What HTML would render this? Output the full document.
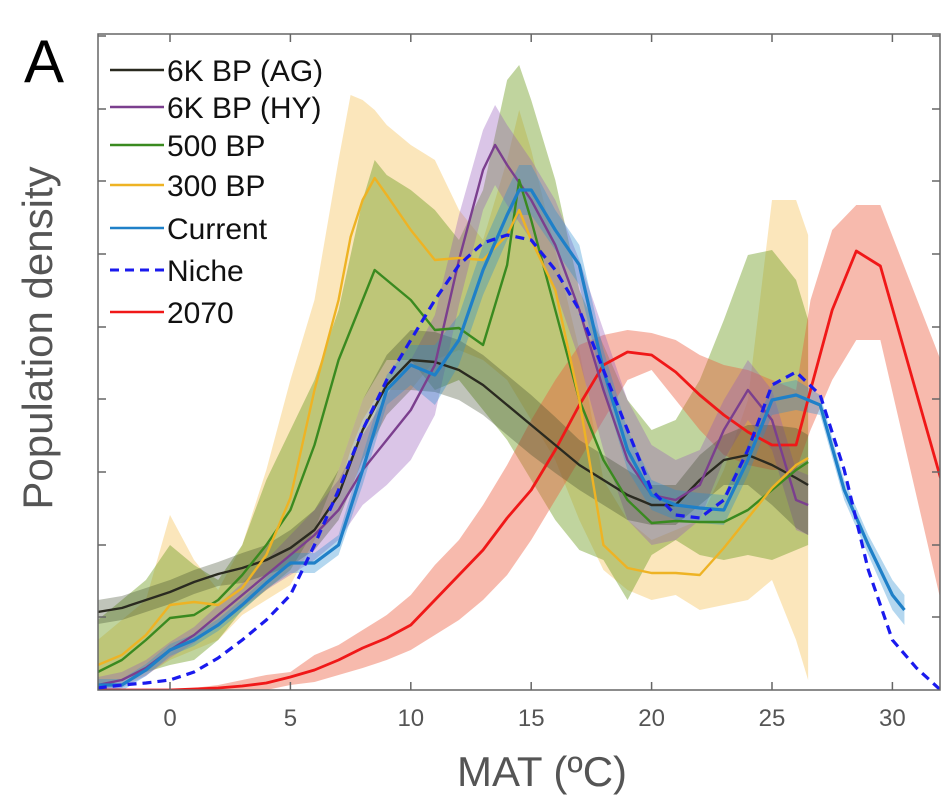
<!DOCTYPE html>
<html><head><meta charset="utf-8"><style>
body{margin:0;background:#fff;}
svg{display:block;font-family:"Liberation Sans",sans-serif;}
</style></head><body>
<svg id="chart" width="952" height="807">
<text x="24" y="82" font-size="60" fill="#000">A</text>
<text transform="translate(52,338) rotate(-90)" text-anchor="middle" font-size="42" fill="#555">Population density</text>
<text x="542" y="786" text-anchor="middle" font-size="42" fill="#555">MAT (ºC)</text>
<g id="plot"></g>
</svg>
<script>
const xsBlack=[-3,-2,-1,0,1,2,3,4,5,6,7,8,9,10,11,12,13,14,15,16,17,18,19,20,21,22,23,24,25,26,26.5];
const vBlack=[7.8,8.2,9,9.8,10.8,11.6,12.2,13,14.2,16,19.5,26,30.5,33,32.8,32,30.5,28.5,26.5,24.5,22.5,21,19.5,18.5,18.5,21,23,23.5,22.5,21.2,20.5];
const hwBlack=[1.2,1.2,1.2,1.2,1.2,1.2,1.5,1.5,1.8,2,2.5,3,3,3,3,3,3,3,3,2.8,2.5,2.5,2.5,2,2,2.5,2.5,3,4,5,5];
const xsPurple=[-3,-2,-1,0,1,2,3,4,5,6,7,8,9,10,11,12,13,13.5,14,15,16,17,18,19,20,21,22,23,24,25,26,26.5];
const vPurple=[0.5,1,2.2,4,5.5,7.5,9.5,11.5,13.5,15.5,18,22,25,28,32.5,43,52,54.5,52.5,49,44.5,38,30,23,19.5,19,20.5,26,30,27,19,18.5];
const hwPurple=[0.8,0.8,0.8,0.8,0.8,1,1.2,1.5,2,2.5,3,3.5,4.5,5,5,4.5,4,4,4,4,4.5,5,6,6,5,4,3.5,3,3,3,3,3];
const xsGreen=[-3,-2,-1,0,1,2,3,4,5,6,7,8,8.5,9,10,11,12,13,14,14.5,15,16,17,18,19,20,21,22,23,24,25,26,26.5];
const vGreen=[1.8,3,5,7.2,7.5,9,11.5,14.5,18,24.5,33,39,42,41,39,36,36.2,34.5,42.5,51,47,38,29,23,19,16.7,16.9,16.8,16.8,18,20,22,22.8];
const hiGreen=[7,9,11,14.5,12.5,11,14.5,21,26,31,38,49,53,51.5,50,48,45,50,61,62.5,59,51,40,34.5,29,26,27,31,37,43.5,44,41,37];
const loGreen=[0,1,1.8,2.5,3,5,8,10,12,16,22,29,31,33,33,30,31,28,25,23,21,17,14,13,9,13.5,15,13.5,13,13.5,13,14,14.5];
const xsYellow=[-3,-2,-1,0,1,2,3,4,5,6,7,7.5,8,8.5,9,10,11,12,13,14,14.5,15,16,17,18,19,20,21,22,23,24,25,26,26.5];
const vYellow=[2.5,3.5,5.5,8.5,8.8,8.5,10.2,13.5,19.2,30,39,45.3,49,51.2,49.5,46,43,43.2,43,45.5,48,45,40,29,14.5,12.2,11.7,11.7,11.5,14.2,17.2,20.2,22.5,23.2];
const hiYellow=[5,7,9,17.5,13,10,14.5,22,31,39,53,59.5,59,58,56.5,54.5,53,48,45,53,58,54,44,34,21,17,15,16,17,22,29,49,49,45.5];
const loYellow=[0,0.5,1.5,3,4,5,7.5,9,10.5,15,20,24,27,29,30,30,33,34,33,31,29,27,23,17,12,10,9,9.5,8,8.5,9,11,5,1];
const xsBlue=[-3,-2,-1,0,1,2,3,4,5,6,7,8,9,10,11,12,13,14,14.5,15,16,17,18,19,20,21,22,23,24,25,26,27,28,29,30,30.5];
const vBlue=[0.5,0.5,2,4,5,6.5,8.5,10.7,12.7,12.7,14.5,22,30,32.5,31.5,35,42,47.5,50,50,46,42.5,32,24,19.5,18.5,18.2,18,23,29,29.5,28.5,20,14.5,9.5,8];
const hwBlue=[0.6,0.6,0.6,0.6,0.6,0.6,0.6,0.6,1,1,1,1.5,1.5,2,3,2.5,2.5,2.5,2.5,2.5,2,2,2,2,1.5,1.5,1.5,1.5,1.5,1.5,1.5,1,1,1,1.5,1.5];
const xsNiche=[-3,-2,-1,0,1,2,3,4,5,6,7,8,9,10,11,12,13,14,15,16,17,18,19,20,21,22,23,24,25,26,27,28,29,30,31,32];
const vNiche=[0.2,0.5,0.7,1,1.8,3.2,5,7,9.5,14.5,20,26,31,35,39,42.5,44.7,45.5,45,42,38,32,26,20,17.5,17.2,19,24,30.5,31.8,29.5,22,12,5,2.2,0];
const xsRed=[-3,-2,-1,0,1,2,3,4,5,6,7,8,9,10,11,12,13,14,15,16,17,18,19,20,21,22,23,24,25,26,26.6,27.5,28.5,29.5,32];
const vRed=[0,0,0,0,0.1,0.2,0.4,0.7,1.3,2,3,4.2,5.2,6.5,9,11.5,14,17.2,20,24,28.5,32.5,33.8,33.5,31.8,29.5,27.5,25.8,24.5,24.5,30,38,43.9,42.4,21.2];
const hiRed=[0,0,0,0,0.2,0.5,1,1.5,1.8,3.5,4.5,6,7.5,9.5,12.5,15,18.5,22.5,27,31,34.5,35.5,36,35.7,35,33.5,32.5,32,31,30,39,46,48.5,48.5,33];
const loRed=[0,0,0,0,0,0,0,0,0.5,0.8,1.5,2.2,3,4,5.5,7,9,11.5,15,19,23,27,31,32,29,26,23.5,22.5,22,22,26,31,35,35,9];
const xTicks=[0,5,10,15,20,25,30];
const yTickVals=[7.3,14.5,21.8,29.1,36.3,43.6,50.9,58.1,65.4];
const legendLabels=["6K BP (AG)","6K BP (HY)","500 BP","300 BP","Current","Niche","2070"];

const L=98,R=940,T=34,B=690;
const sx=v=>170+(v-0)*24.08;
const sy=v=>B-v*10;
const NS="http://www.w3.org/2000/svg";
const plot=document.getElementById('plot');
function mk(tag,attrs,parent){const e=document.createElementNS(NS,tag);for(const k in attrs)e.setAttribute(k,attrs[k]);(parent||plot).appendChild(e);return e;}
const clip=mk('clipPath',{id:'clip'});mk('rect',{x:L,y:T,width:R-L,height:B-T},clip);
const g=mk('g',{'clip-path':'url(#clip)'});
function band(xs,hi,lo,fill,name){
  let d='M'+xs.map((x,i)=>sx(x)+','+sy(hi[i])).join('L');
  for(let i=xs.length-1;i>=0;i--)d+='L'+sx(xs[i])+','+sy(lo[i]);
  const p=mk('path',{d:d+'Z',fill:fill,stroke:'none'},g);
  
  
}
function line(xs,v,col,w,name,dash){
  const p=mk('path',{d:'M'+xs.map((x,i)=>sx(x)+','+sy(v[i])).join('L'),fill:'none',stroke:col,'stroke-width':w,'stroke-linejoin':'round'},g);
  if(dash)p.setAttribute('stroke-dasharray',dash);
  
  
}
const pm=(v,h,s)=>v.map((a,i)=>a+s*h[i]);
band(xsYellow,hiYellow,loYellow,'rgba(248,205,120,0.5)','band-300bp');
band(xsGreen,hiGreen,loGreen,'rgba(115,160,40,0.45)','band-500bp');
band(xsRed,hiRed,loRed,'rgba(235,90,60,0.42)','band-2070');
band(xsPurple,pm(vPurple,hwPurple,1),pm(vPurple,hwPurple,-1),'rgba(150,90,185,0.35)','band-6k-hy');
band(xsBlack,pm(vBlack,hwBlack,1),pm(vBlack,hwBlack,-1),'rgba(60,70,40,0.32)','band-6k-ag');
band(xsBlue,pm(vBlue,hwBlue,1),pm(vBlue,hwBlue,-1),'rgba(40,140,210,0.35)','band-current');
line(xsRed,vRed,'#f01818',2.8,'line-2070');
line(xsBlack,vBlack,'#2a2a20',2.4,'line-6k-ag');
line(xsPurple,vPurple,'#7b3f8e',2.4,'line-6k-hy');
line(xsGreen,vGreen,'#3a8a20',2.4,'line-500bp');
line(xsYellow,vYellow,'#eeb324',2.4,'line-300bp');
line(xsBlue,vBlue,'#1f80c8',3.2,'line-current');
line(xsNiche,vNiche,'#1a1aee',3.2,'line-niche','9,6');
const ax=mk('rect',{x:L,y:T,width:R-L,height:B-T,fill:'none',stroke:'#666','stroke-width':1.5});


xTicks.forEach(t=>{
  mk('line',{x1:sx(t),x2:sx(t),y1:B,y2:B-8,stroke:'#666','stroke-width':1.5});
  mk('line',{x1:sx(t),x2:sx(t),y1:T,y2:T+8,stroke:'#666','stroke-width':1.5});
  const tx=mk('text',{x:sx(t),y:B+36,'text-anchor':'middle','font-size':24,fill:'#555'});
  tx.textContent=t;
  
  
});
yTickVals.forEach(v=>{
  mk('line',{x1:L,x2:L+8,y1:sy(v),y2:sy(v),stroke:'#666','stroke-width':1.5});
  mk('line',{x1:R,x2:R-8,y1:sy(v),y2:sy(v),stroke:'#666','stroke-width':1.5});
});
const legCols=['#2a2a20','#7b3f8e','#3a8a20','#eeb324','#1f80c8','#1a1aee','#f01818'];
const legY=[70,107,145,185,228,270,312];
legendLabels.forEach((lab,i)=>{
  const lg=mk('g',{});
  
  
  const ln=mk('line',{x1:110,x2:164,y1:legY[i],y2:legY[i],stroke:legCols[i],'stroke-width':i==5?3:2.5},lg);
  if(i==5)ln.setAttribute('stroke-dasharray','9,6');
  const tx=mk('text',{x:167,y:legY[i]+11,'font-size':30,fill:'#111'},lg);
  tx.textContent=lab;
});
</script>
</body></html>
